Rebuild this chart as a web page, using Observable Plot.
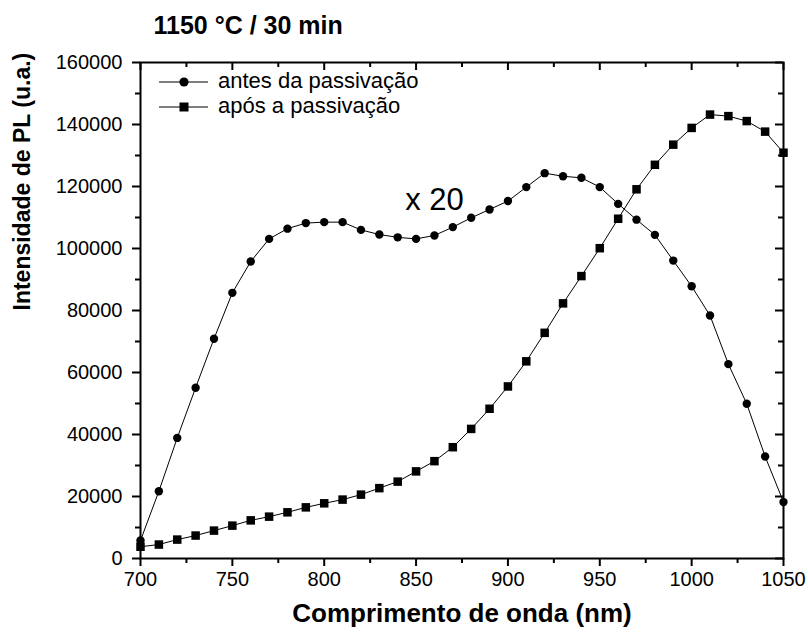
<!DOCTYPE html>
<html>
<head>
<meta charset="utf-8">
<script src="https://cdn.jsdelivr.net/npm/d3@7"></script>
<script src="https://cdn.jsdelivr.net/npm/@observablehq/plot@0.6"></script>
<style>
  body { margin: 0; background: #fff; }
  #chart svg { overflow: visible; }
</style>
</head>
<body>
<div id="chart"></div>
<script>
// ---- data ----
const wavelength = [700,710,720,730,740,750,760,770,780,790,800,810,820,830,840,850,860,870,880,890,900,910,920,930,940,950,960,970,980,990,1000,1010,1020,1030,1040,1050];
const antes = [5800,21700,38900,55100,70900,85700,95800,103100,106400,108200,108500,108500,106000,104500,103600,103100,104200,106900,109900,112600,115300,119800,124300,123300,122800,119800,114400,109300,104400,96100,87800,78400,62700,49900,32900,18200];
const apos = [3800,4500,6100,7400,9000,10600,12300,13500,14900,16500,17800,19000,20600,22700,24800,28100,31400,35900,41800,48300,55500,63600,72800,82300,91100,100100,109600,119100,127000,133500,138900,143200,142700,141100,137700,130900];
const seriesNames = ["antes da passivação", "após a passivação"];
const xTicks = [700,750,800,850,900,950,1000,1050];
const xMinor = [725,775,825,875,925,975,1025];
const yTicks = [0,20000,40000,60000,80000,100000,120000,140000,160000];
const yMinor = [10000,30000,50000,70000,90000,110000,130000,150000];
const title = "1150 °C / 30 min";
const xLabel = "Comprimento de onda (nm)";
const yLabel = "Intensidade de PL (u.a.)";
const annotations = [{w: 860, v: 115500, text: "x 20"}];

const rowsA = wavelength.map((w, i) => ({w, v: antes[i], s: seriesNames[0]}));
const rowsB = wavelength.map((w, i) => ({w, v: apos[i], s: seriesNames[1]}));

const W = 808, H = 639, mL = 140, mR = 25, mT = 62, mB = 81;
const fw = W - mL - mR, fh = H - mT - mB;
const MAJ = 8, MIN = 5;
const tk = {stroke: "#000", strokeWidth: 2};

const plot = Plot.plot({
  width: W,
  height: H,
  marginLeft: mL,
  marginRight: mR,
  marginTop: mT,
  marginBottom: mB,
  style: {fontFamily: "'Liberation Sans', Arial, sans-serif", fontSize: "20px", color: "#000", background: "#fff", overflow: "visible"},
  x: {domain: [700, 1050], label: null},
  y: {domain: [0, 160000], label: null},
  marks: [
    Plot.axisX({anchor: "bottom", ticks: xTicks, tickSize: 0, tickPadding: MAJ + 5, tickFormat: d => String(d), label: null}),
    Plot.axisY({anchor: "left", ticks: yTicks, tickSize: 0, tickPadding: MAJ + 10, tickFormat: d => String(d), label: null}),
    // bottom (outward) and top (inward) ticks
    Plot.tickX(xTicks, {x: d => d, insetTop: fh, insetBottom: -MAJ, ...tk}),
    Plot.tickX(xMinor, {x: d => d, insetTop: fh, insetBottom: -MIN, ...tk}),
    Plot.tickX(xTicks, {x: d => d, insetTop: 0, insetBottom: fh - MAJ, ...tk}),
    Plot.tickX(xMinor, {x: d => d, insetTop: 0, insetBottom: fh - MIN, ...tk}),
    // left (outward) and right (inward) ticks
    Plot.tickY(yTicks, {y: d => d, insetLeft: -MAJ, insetRight: fw, ...tk}),
    Plot.tickY(yMinor, {y: d => d, insetLeft: -MIN, insetRight: fw, ...tk}),
    Plot.tickY(yTicks, {y: d => d, insetLeft: fw - MAJ, insetRight: 0, ...tk}),
    Plot.tickY(yMinor, {y: d => d, insetLeft: fw - MIN, insetRight: 0, ...tk}),
    Plot.frame({stroke: "#000", strokeWidth: 2}),
    Plot.line(rowsA, {x: "w", y: "v", stroke: "#000", strokeWidth: 1}),
    Plot.line(rowsB, {x: "w", y: "v", stroke: "#000", strokeWidth: 1}),
    Plot.dot(rowsA, {x: "w", y: "v", symbol: "circle", r: 4.2, fill: "#000"}),
    Plot.dot(rowsB, {x: "w", y: "v", symbol: "square", r: 4.8, fill: "#000"}),
    Plot.text(annotations, {x: "w", y: "v", text: "text", fontSize: 31, fill: "#000"}),
    Plot.text([title], {frameAnchor: "top-left", dx: 13, dy: -29, lineAnchor: "bottom", textAnchor: "start", fontSize: 25, fontWeight: "bold", fill: "#000"}),
    Plot.text([xLabel], {frameAnchor: "bottom", dy: 63, lineAnchor: "bottom", fontSize: 26, fontWeight: "bold", fill: "#000"}),
    Plot.text([yLabel], {frameAnchor: "left", dx: -118, rotate: -90, lineAnchor: "middle", fontSize: 23, fontWeight: "bold", fill: "#000"})
  ]
});

// legend (inside the frame, top-left)
const svg = d3.select(plot);
const leg = svg.append("g")
  .attr("font-family", "'Liberation Sans', Arial, sans-serif")
  .attr("font-size", 22)
  .attr("text-anchor", "start");
seriesNames.forEach((name, i) => {
  const cy = 82 + i * 25;
  const g = leg.append("g").attr("transform", `translate(0,${cy})`);
  g.append("line").attr("x1", 159).attr("x2", 208).attr("y1", 0).attr("y2", 0).attr("stroke", "#000").attr("stroke-width", 1.2);
  if (i === 0) g.append("circle").attr("cx", 184).attr("cy", 0).attr("r", 4.6).attr("fill", "#000");
  else g.append("rect").attr("x", 179.5).attr("y", -4.5).attr("width", 9).attr("height", 9).attr("fill", "#000");
  g.append("text").attr("x", 218).attr("y", 6).attr("text-anchor", "start").attr("fill", "#000").text(name);
});

document.getElementById("chart").appendChild(plot);
</script>
</body>
</html>
